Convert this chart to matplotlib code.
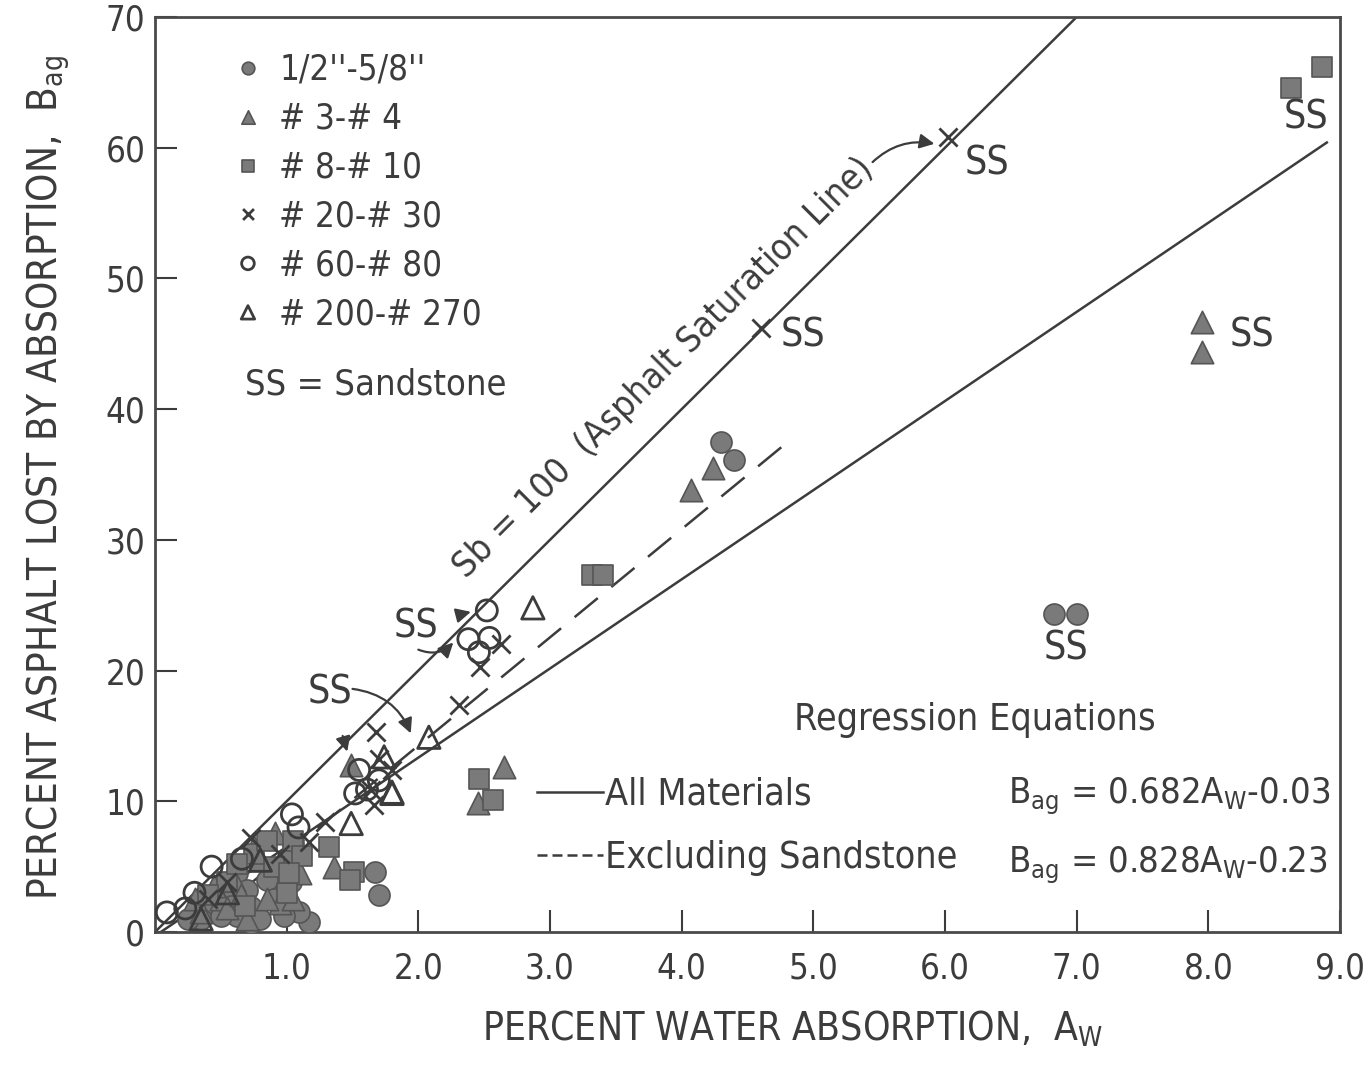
import numpy as np
import matplotlib
matplotlib.use("Agg")
import matplotlib.pyplot as plt
from matplotlib.lines import Line2D

plt.rcParams['font.family'] = ['DejaVu Sans']
plt.rcParams['font.stretch'] = 'condensed'

# ---- data (x = % water absorption, y = % asphalt lost) ----
circ_x = [4.30, 4.40, 6.83, 7.00, 1.67, 1.70, 1.17, 1.09, 0.73, 0.73, 0.62, 0.55,
          0.95, 1.00, 0.45, 0.85, 0.62, 1.05, 0.35, 0.90, 0.25, 0.50, 0.58, 0.80,
          0.98, 1.03, 0.70]
circ_y = [37.5, 36.1, 24.3, 24.3, 4.6, 2.8, 0.8, 1.5, 1.9, 0.7, 1.2, 3.0,
          3.5, 5.5, 2.2, 4.0, 4.5, 6.8, 1.0, 2.5, 1.0, 1.2, 2.0, 1.0,
          1.2, 3.8, 3.2]

tri_x = [7.95, 7.95, 4.24, 4.07, 2.65, 2.45, 1.36, 1.49, 0.91, 0.50, 0.60, 0.80,
         1.00, 1.10, 0.35, 0.70, 0.95, 0.55, 0.30, 0.45, 0.65, 0.85, 0.75, 1.05]
tri_y = [46.7, 44.4, 35.5, 33.8, 12.6, 9.9, 5.0, 12.8, 7.6, 2.5, 4.0, 5.5,
         6.0, 4.5, 1.5, 1.0, 2.2, 1.8, 2.5, 3.5, 2.8, 2.5, 6.5, 2.5]

sq_x = [8.63, 8.86, 3.32, 3.40, 2.46, 2.57, 1.32, 1.51, 1.48, 0.90, 1.00, 1.05,
        0.75, 0.55, 1.12, 0.40, 0.62, 0.85, 1.02, 0.68]
sq_y = [64.6, 66.2, 27.3, 27.3, 11.7, 10.1, 6.5, 4.6, 4.0, 5.0, 3.0, 7.0,
        6.0, 3.8, 5.8, 2.8, 5.2, 7.0, 4.5, 2.0]

xm_x = [6.02, 4.60, 2.31, 2.47, 2.63, 1.68, 1.70, 1.80, 1.64, 1.66, 1.29, 1.17,
        0.73, 0.95, 0.55, 0.40]
xm_y = [60.8, 46.2, 17.4, 20.3, 22.0, 15.3, 13.2, 12.4, 10.9, 9.7, 8.4, 6.9,
        7.2, 6.0, 3.8, 2.5]

ocirc_x = [2.52, 2.38, 2.54, 2.46, 1.55, 1.52, 1.61, 1.70, 1.04, 1.09, 0.66, 0.43,
           0.23, 0.09, 0.30]
ocirc_y = [24.6, 22.4, 22.5, 21.4, 12.4, 10.6, 10.9, 11.6, 9.0, 8.0, 5.6, 5.0,
           1.8, 1.5, 3.0]

otri_x = [2.87, 2.08, 1.80, 1.74, 1.80, 1.49, 0.55, 0.80, 0.35]
otri_y = [24.8, 14.9, 10.7, 13.4, 10.6, 8.3, 3.0, 5.5, 1.0]

# regression lines (slope/intercept as plotted)
all_slope, all_icpt = 6.82, -0.3
exc_slope, exc_icpt = 8.28, -2.3
sat_slope = 10.0

x_ticks = [1, 2, 3, 4, 5, 6, 7, 8, 9]
x_labels = ['1.0', '2.0', '3.0', '4.0', '5.0', '6.0', '7.0', '8.0', '9.0']
y_ticks = [0, 10, 20, 30, 40, 50, 60, 70]

ink = '#3c3c3c'
fill = '#7a7a7a'
FS = 25

fig = plt.figure(figsize=(13.69, 10.81), dpi=100)
ax = fig.add_axes([155 / 1369, 149 / 1081, 1185 / 1369, 915 / 1081])
ax.set_xlim(0, 9)
ax.set_ylim(0, 70)

# lines
xs = np.array([0.0, 7.0])
ax.plot(xs, sat_slope * xs, color=ink, lw=1.8)
xs = np.array([0.05, 8.9])
ax.plot(xs, all_slope * xs + all_icpt, color=ink, lw=1.8)
xs = np.array([0.4, 4.85])
ax.plot(xs, exc_slope * xs + exc_icpt, color=ink, lw=1.8, dashes=(12, 7))

# markers
h1 = ax.scatter(circ_x, circ_y, s=230, marker='o', facecolor=fill, edgecolor='#555', lw=1.2, zorder=3)
h2 = ax.scatter(tri_x, tri_y, s=260, marker='^', facecolor=fill, edgecolor='#555', lw=1.2, zorder=3)
h3 = ax.scatter(sq_x, sq_y, s=210, marker='s', facecolor=fill, edgecolor='#555', lw=1.2, zorder=3)
h4 = ax.scatter(xm_x, xm_y, s=170, marker='x', color=ink, lw=2.0, zorder=3)
h5 = ax.scatter(ocirc_x, ocirc_y, s=230, marker='o', facecolor='none', edgecolor=ink, lw=2.0, zorder=3)
h6 = ax.scatter(otri_x, otri_y, s=260, marker='^', facecolor='none', edgecolor=ink, lw=2.0, zorder=3)

leg = ax.legend([h1, h2, h3, h4, h5, h6],
                ["1/2''-5/8''", '# 3-# 4', '# 8-# 10', '# 20-# 30', '# 60-# 80', '# 200-# 270'],
                loc='upper left', bbox_to_anchor=(0.055, 0.976), frameon=False,
                fontsize=FS, markerscale=0.6, handlelength=0.8, handletextpad=0.5,
                labelspacing=0.43, borderaxespad=0, scatteryoffsets=[0.5])
for t in leg.get_texts():
    t.set_color(ink)
ax.add_artist(leg)

ax.text(0.076, 0.598, 'SS = Sandstone', transform=ax.transAxes, fontsize=26,
        color=ink, va='center', ha='left')

# saturation line label
ax.text(3.86, 43.2, 'Sb = 100  (Asphalt Saturation Line)', rotation=45,
        rotation_mode='anchor', ha='center', va='center', fontsize=26, color=ink)

# SS labels
ss_kw = dict(fontsize=28, color=ink, va='center')
ax.text(6.15, 58.8, 'SS', ha='left', **ss_kw)
ax.text(4.75, 45.6, 'SS', ha='left', **ss_kw)
ax.text(8.74, 62.3, 'SS', ha='center', **ss_kw)
ax.text(8.16, 45.6, 'SS', ha='left', **ss_kw)
ax.text(6.92, 21.7, 'SS', ha='center', **ss_kw)

arr = dict(arrowstyle='-|>', color=ink, lw=1.6, mutation_scale=22)
ax.annotate('SS', xy=(2.44, 24.6), xytext=(1.98, 23.4), fontsize=28, color=ink,
            ha='center', va='center',
            arrowprops=dict(arr, shrinkA=14, shrinkB=4))
ax.annotate('', xy=(2.28, 22.3), xytext=(2.0, 21.6),
            arrowprops=dict(arr, connectionstyle='arc3,rad=0.35', shrinkA=0, shrinkB=2))
ax.annotate('SS', xy=(1.46, 13.8), xytext=(1.33, 18.3), fontsize=28, color=ink,
            ha='center', va='center',
            arrowprops=dict(arr, shrinkA=16, shrinkB=0))
ax.annotate('', xy=(1.95, 15.0), xytext=(1.5, 18.6),
            arrowprops=dict(arr, connectionstyle='arc3,rad=-0.3', shrinkA=0, shrinkB=2))
ax.annotate('', xy=(5.92, 60.3), xytext=(5.45, 58.9),
            arrowprops=dict(arr, connectionstyle='arc3,rad=-0.25', shrinkA=0, shrinkB=0))

# regression equations block
ax.text(6.23, 16.2, 'Regression Equations', fontsize=27, color=ink, ha='center', va='center')
reg_handles = [Line2D([], [], color=ink, lw=1.8),
               Line2D([], [], color=ink, lw=1.8, dashes=(4, 2))]
leg2 = ax.legend(reg_handles, ['All Materials', 'Excluding Sandstone'],
                 loc='upper left', bbox_to_anchor=(0.31, 0.186), frameon=False,
                 fontsize=27, handlelength=1.75, handletextpad=0.05,
                 labelspacing=0.72, borderaxespad=0)
for t in leg2.get_texts():
    t.set_color(ink)

ax.text(6.48, 10.4, r'$\mathregular{B_{ag}}$ = 0.682$\mathregular{A_W}$-0.03',
        fontsize=26, color=ink, ha='left', va='center')
ax.text(6.48, 5.1, r'$\mathregular{B_{ag}}$ = 0.828$\mathregular{A_W}$-0.23',
        fontsize=26, color=ink, ha='left', va='center')

# axes styling
ax.set_xticks(x_ticks)
ax.set_xticklabels(x_labels)
ax.set_yticks(y_ticks)
ax.tick_params(direction='in', length=16, width=1.5, color=ink, labelsize=25,
               labelcolor=ink)
ax.tick_params(axis='x', pad=14)
ax.tick_params(axis='y', pad=7)
for sp in ax.spines.values():
    sp.set_linewidth(2.0)
    sp.set_color('#4a4a4a')

ax.set_xlabel(r'PERCENT WATER ABSORPTION,  $\mathregular{A_W}$', fontsize=28,
              color=ink)
ax.xaxis.set_label_coords(0.538, -0.084)
ax.set_ylabel(r'PERCENT ASPHALT LOST BY ABSORPTION,  $\mathregular{B_{ag}}$',
              fontsize=29, color=ink)
ax.yaxis.set_label_coords(-0.07, 0.497)

fig.savefig('out.png', dpi=100)
